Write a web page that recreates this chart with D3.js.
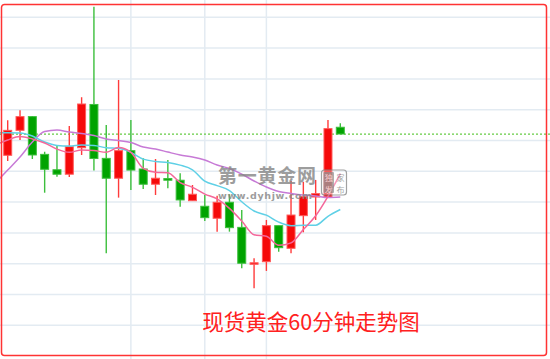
<!DOCTYPE html>
<html>
<head>
<meta charset="utf-8">
<script src="https://cdn.jsdelivr.net/npm/d3@7"></script>
<style>
  body { margin: 0; background: #fff; }
</style>
</head>
<body>
<div id="chart-area"></div>
<script>
// 现货黄金 60 min candles
var opens  = [1291.04, 1292.66, 1293.55, 1291.10, 1290.10, 1289.81, 1291.53, 1294.34, 1290.84, 1289.55,
              1291.34, 1290.15, 1289.16, 1289.53, 1289.42, 1288.09, 1287.73, 1286.95, 1287.99, 1286.36,
              1283.98, 1284.13, 1286.47, 1285.00, 1287.12, 1288.33, 1288.33, 1292.86];
var closes = [1292.66, 1293.55, 1291.06, 1290.13, 1289.81, 1291.60, 1294.37, 1290.83, 1289.55, 1291.34,
              1290.08, 1289.16, 1289.55, 1289.42, 1288.14, 1288.51, 1286.99, 1287.99, 1286.34, 1284.03,
              1284.06, 1286.47, 1285.04, 1287.16, 1288.35, 1288.55, 1292.77, 1292.42];
var highs  = [1293.31, 1293.96, 1293.59, 1291.27, 1291.66, 1292.94, 1294.81, 1300.69, 1293.01, 1295.93,
              1293.33, 1290.84, 1290.80, 1290.73, 1289.87, 1289.11, 1288.46, 1288.42, 1288.51, 1287.49,
              1284.35, 1286.84, 1286.47, 1289.37, 1289.32, 1289.44, 1293.33, 1293.12];
var lows   = [1290.67, 1292.03, 1290.80, 1288.61, 1289.65, 1289.63, 1291.06, 1290.05, 1284.68, 1288.29,
              1288.79, 1288.85, 1288.46, 1288.90, 1287.70, 1288.09, 1286.77, 1286.08, 1286.08, 1283.70,
              1282.40, 1283.53, 1284.78, 1284.68, 1286.04, 1286.84, 1288.33, 1292.42];

// moving averages start one bar before the first candle (just off the left edge)
var maStart = -1;
var ma5  = [1291.71, 1292.03, 1292.26, 1292.10, 1291.84, 1291.44, 1291.23, 1291.39, 1291.35, 1291.23,
            1291.54, 1291.23, 1290.19, 1289.94, 1289.91, 1289.27, 1288.96, 1288.52, 1288.21, 1287.59,
            1286.77, 1285.88, 1285.78, 1285.19, 1285.35, 1286.22, 1287.11, 1288.37, 1289.85];
var ma10 = [1292.51, 1292.51, 1292.49, 1292.29, 1291.90, 1291.68, 1291.64, 1291.71, 1291.68, 1291.53,
            1291.49, 1291.23, 1290.79, 1290.64, 1290.57, 1290.40, 1290.10, 1289.36, 1289.07, 1288.75,
            1288.02, 1287.42, 1287.15, 1286.70, 1286.47, 1286.49, 1286.50, 1287.08, 1287.52];
var ma20 = [1289.24, 1290.08, 1290.93, 1291.90, 1292.58, 1292.68, 1292.55, 1292.45, 1292.32, 1292.10,
            1292.00, 1291.87, 1291.58, 1291.45, 1291.25, 1291.06, 1290.93, 1290.73, 1290.41, 1290.18,
            1289.82, 1289.37, 1288.98, 1288.69, 1288.56, 1288.46, 1288.40, 1288.30, 1288.33];

var priceTicks = [1280, 1282, 1284, 1286, 1288, 1290, 1292, 1294, 1296, 1298, 1300];
var gridBars = [10, 16, 21];
var title = "现货黄金60分钟走势图";

var width = 550, height = 359;

var svg = d3.select("#chart-area")
  .append("svg")
  .attr("width", width)
  .attr("height", height)
  .style("display", "block");

var x = d3.scaleLinear().domain([0, 27]).range([7.7, 340.3]);
var y = d3.scaleLinear().domain([1280, 1300]).range([325.3, 17.3]);

// grid
svg.append("g").selectAll("line").data(priceTicks).enter().append("line")
  .attr("x1", 0).attr("x2", width)
  .attr("y1", d => y(d)).attr("y2", d => y(d))
  .attr("stroke", "#e3ebf2").attr("stroke-width", 1.5);

svg.append("g").selectAll("line").data(gridBars).enter().append("line")
  .attr("x1", d => x(d)).attr("x2", d => x(d))
  .attr("y1", 0).attr("y2", height)
  .attr("stroke", "#e3ebf2").attr("stroke-width", 1.5);

// last price line
var last = closes[closes.length - 1];
svg.append("line")
  .attr("x1", 0).attr("x2", width)
  .attr("y1", y(last)).attr("y2", y(last))
  .attr("stroke", "#66cc44").attr("stroke-width", 1.3)
  .attr("stroke-dasharray", "2,2");

// candles
var bars = opens.map((o, i) => ({i: i, o: o, c: closes[i], h: highs[i], l: lows[i]}));
var up = d => d.c >= d.o;

var candle = svg.append("g").selectAll("g").data(bars).enter().append("g");

candle.append("line")
  .attr("x1", d => x(d.i)).attr("x2", d => x(d.i))
  .attr("y1", d => y(d.h)).attr("y2", d => y(d.l))
  .attr("stroke", d => up(d) ? "#ff3b3b" : "#3cbf3c")
  .attr("stroke-width", 1.4);

candle.append("rect")
  .attr("x", d => x(d.i) - 4)
  .attr("width", 8)
  .attr("y", d => y(Math.max(d.o, d.c)))
  .attr("height", d => Math.max(1.5, Math.abs(y(d.o) - y(d.c))))
  .attr("fill", d => up(d) ? "#f50a0a" : "#00a300")
  .attr("stroke", d => up(d) ? "#ff5a5a" : "#3cbf3c")
  .attr("stroke-width", 1);

// moving averages
var line = d3.line()
  .x((d, i) => x(i + maStart))
  .y(d => y(d))
  .curve(d3.curveMonotoneX);

svg.append("path").datum(ma20).attr("d", line)
  .attr("fill", "none").attr("stroke", "#c77ad6").attr("stroke-width", 1.5);
svg.append("path").datum(ma10).attr("d", line)
  .attr("fill", "none").attr("stroke", "#5fd0e6").attr("stroke-width", 1.5);
svg.append("path").datum(ma5).attr("d", line)
  .attr("fill", "none").attr("stroke", "#f4679a").attr("stroke-width", 1.5);

// watermark
var wm = svg.append("g").attr("opacity", 0.8);
wm.append("text")
  .attr("x", 218).attr("y", 183)
  .attr("font-family", "'Noto Sans CJK SC', sans-serif")
  .attr("font-size", "19px").attr("font-weight", "bold")
  .attr("fill", "#858585")
  .attr("textLength", 98).attr("lengthAdjust", "spacing")
  .text("第一黄金网");
wm.append("text")
  .attr("x", 218).attr("y", 198.5)
  .attr("font-family", "'DejaVu Sans', sans-serif")
  .attr("font-size", "9.5px").attr("font-weight", "bold")
  .attr("fill", "#858585")
  .attr("textLength", 94).attr("lengthAdjust", "spacing")
  .text("www.dyhjw.com");
wm.append("rect")
  .attr("x", 321.5).attr("y", 170).attr("width", 25).attr("height", 25).attr("rx", 3)
  .attr("fill", "#fff").attr("fill-opacity", 0.4)
  .attr("stroke", "#8a8a8a").attr("stroke-width", 1.2);
wm.append("rect")
  .attr("x", 323.5).attr("y", 172).attr("width", 10.5).attr("height", 21).attr("rx", 1)
  .attr("fill", "#9a9a9a");
[["独", 328.8, 180.5, "#fff"], ["发", 328.8, 192.5, "#fff"], ["家", 340.5, 180.5, "#8a8a8a"], ["布", 340.5, 192.5, "#8a8a8a"]]
  .forEach(function(c) {
    wm.append("text")
      .attr("x", c[1]).attr("y", c[2])
      .attr("text-anchor", "middle")
      .attr("font-family", "'Noto Sans CJK SC', sans-serif")
      .attr("font-size", "8px")
      .attr("fill", c[3])
      .text(c[0]);
  });

// title
svg.append("text")
  .attr("x", 311).attr("y", 330)
  .attr("text-anchor", "middle")
  .attr("font-family", "'Noto Sans CJK SC', sans-serif")
  .attr("font-size", "21.5px")
  .attr("fill", "#ff2020")
  .text(title);

// frame
svg.append("rect")
  .attr("x", 1.5).attr("y", 4.5)
  .attr("width", 545).attr("height", 351)
  .attr("rx", 3)
  .attr("fill", "none")
  .attr("stroke", "#ff3333").attr("stroke-width", 1.5);
</script>
</body>
</html>
